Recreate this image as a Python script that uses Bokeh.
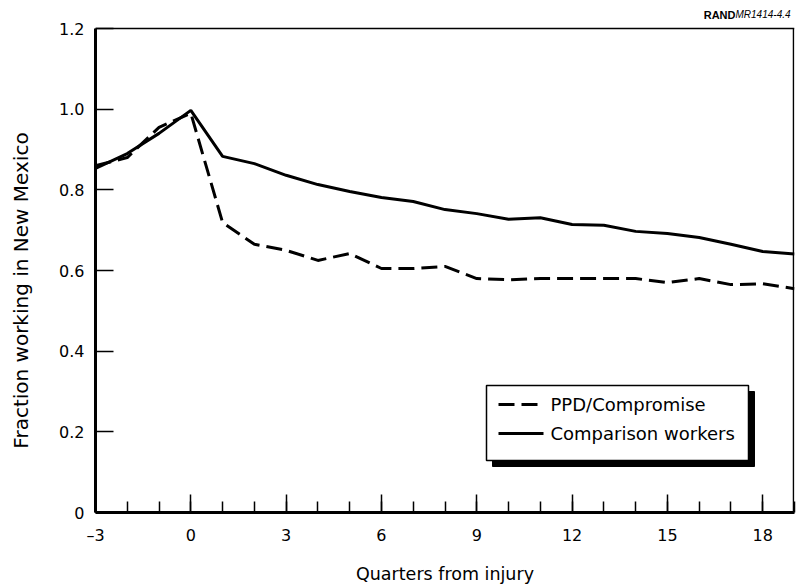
import math

from bokeh.plotting import figure
from bokeh.layouts import row
from bokeh.models import FixedTicker, CustomJSTickFormatter, Range1d
from bokeh.core.properties import value
from bokeh.embed import file_html
from bokeh.resources import INLINE

# Quarters relative to the injury quarter
quarters = list(range(-3, 20))
ppd_compromise = [0.860, 0.880, 0.955, 0.990, 0.719, 0.665, 0.650, 0.625, 0.642,
                  0.605, 0.605, 0.610, 0.580, 0.577, 0.580, 0.580, 0.580, 0.580,
                  0.570, 0.580, 0.565, 0.567, 0.555]
comparison = [0.853, 0.890, 0.940, 0.997, 0.883, 0.865, 0.836, 0.813, 0.796,
              0.781, 0.771, 0.751, 0.741, 0.727, 0.731, 0.714, 0.712, 0.697,
              0.692, 0.682, 0.665, 0.647, 0.641]
series_names = ["PPD/Compromise", "Comparison workers"]
x_ticks = [-3, 0, 3, 6, 9, 12, 15, 18]
y_ticks = [0, 0.2, 0.4, 0.6, 0.8, 1.0, 1.2]
y_title = "Fraction working in New Mexico"
x_title = "Quarters from injury"

FONT = "DejaVu Sans"
W, H = 796, 586
STRIP = 36                     # width of the strip holding the vertical title
FL, FR, FB = 95, 794, 512      # frame edges in page pixels (frame reaches page top)
TOP_PX = 28                    # page row of the y = 1.2 border
X0, X1 = -3, 19
Y_MAX = 1.2
Y1 = Y_MAX * FB / (FB - TOP_PX)


def dx(px):
    return X0 + (px - FL) / (FR - FL) * (X1 - X0)


def dy(py):
    return (FB - py) / FB * Y1


# Narrow strip with the rotated y-axis title; its frame spans the same rows
# as the main frame, with one data unit per pixel
t = figure(width=STRIP, height=H, output_backend="svg", toolbar_location=None,
           x_range=Range1d(0, STRIP), y_range=Range1d(0, FB),
           x_axis_location=None, y_axis_location=None,
           min_border_left=0, min_border_right=0,
           min_border_top=0, min_border_bottom=H - FB)
t.outline_line_color = None
t.background_fill_color = "white"
t.border_fill_color = "white"
t.xgrid.visible = False
t.ygrid.visible = False
t.text(x=[20], y=[FB - 290], text=[y_title], angle=math.pi / 2,
       text_font=value(FONT), text_font_size="20px", text_color="black",
       text_align="center", text_baseline="middle")

p = figure(width=W - STRIP, height=H, output_backend="svg",
           toolbar_location=None,
           x_range=Range1d(X0, X1), y_range=Range1d(0, Y1),
           min_border_left=FL - STRIP, min_border_right=W - FR,
           min_border_top=0, min_border_bottom=H - FB)
p.background_fill_color = "white"
p.border_fill_color = "white"
p.outline_line_color = None
p.xgrid.visible = False
p.ygrid.visible = False

# Axes: ticks pointing into the plot
p.xaxis.ticker = FixedTicker(ticks=x_ticks, minor_ticks=quarters)
p.xaxis.formatter = CustomJSTickFormatter(
    code="return tick < 0 ? '\\u2013' + Math.abs(tick) : String(tick);")
p.yaxis.ticker = FixedTicker(ticks=y_ticks, minor_ticks=[])
p.yaxis.formatter = CustomJSTickFormatter(
    code="return tick == 0 ? '0' : tick.toFixed(1);")
p.yaxis.bounds = (0, Y_MAX)
for ax in (p.xaxis, p.yaxis):
    ax.axis_line_width = 3
    ax.axis_line_color = "black"
    ax.major_tick_in = 18
    ax.major_tick_out = 0
    ax.major_tick_line_width = 1.5
    ax.major_tick_line_color = "black"
    ax.minor_tick_in = 11
    ax.minor_tick_out = 0
    ax.minor_tick_line_width = 1.5
    ax.minor_tick_line_color = "black"
    ax.major_label_text_font = FONT
    ax.major_label_text_font_size = "16px"
    ax.major_label_text_color = "black"
    ax.axis_label_text_font = FONT
    ax.axis_label_text_font_style = "normal"
    ax.axis_label_text_color = "black"
p.xaxis.axis_label = x_title
p.xaxis.axis_label_text_font_size = "17.5px"
p.xaxis.major_label_standoff = 13
p.yaxis.major_label_standoff = 11
p.xaxis.axis_label_standoff = 16

# Top and right borders of the plotting box
p.line([X0, X1], [Y_MAX, Y_MAX], line_color="black", line_width=1.5)
p.line([dx(FR - 1), dx(FR - 1)], [0, Y_MAX], line_color="black", line_width=1.5)

# Data lines
p.line(quarters, comparison, line_color="black", line_width=3)
p.line(quarters, ppd_compromise, line_color="black", line_width=3,
       line_dash="16 7")

# Legend box with drop shadow
lx0, lx1, ly0, ly1 = 486, 748, 385, 460
sh = 6
p.quad(left=[dx(lx0 + sh)], right=[dx(lx1 + sh)], top=[dy(ly0 + sh)],
       bottom=[dy(ly1 + sh)], fill_color="black", line_color="black")
p.quad(left=[dx(lx0)], right=[dx(lx1)], top=[dy(ly0)], bottom=[dy(ly1)],
       fill_color="white", line_color="black", line_width=1.5)
row_y = [404, 433]
p.line([dx(498), dx(543)], [dy(row_y[0])] * 2, line_color="black",
       line_width=3, line_dash="16 7")
p.line([dx(498), dx(543)], [dy(row_y[1])] * 2, line_color="black",
       line_width=3)
p.text(x=[dx(550)] * 2, y=[dy(r) for r in row_y], text=series_names,
       text_font=value(FONT), text_font_size="18px", text_color="black",
       text_baseline="middle", text_align="left")

# Figure code in the top-right corner
p.text(x=[dx(735)], y=[dy(14)], text=["RAND"],
       text_font=value("Liberation Sans"), text_font_size="11px",
       text_font_style="bold", text_color="black",
       text_align="right", text_baseline="middle")
p.text(x=[dx(735)], y=[dy(14)], text=["MR1414-4.4"],
       text_font=value("Liberation Sans"), text_font_size="10px",
       text_font_style="italic", text_color="black",
       text_align="left", text_baseline="middle")

page = row(t, p, spacing=0)
open("out.html", "w").write(file_html(page, INLINE))
